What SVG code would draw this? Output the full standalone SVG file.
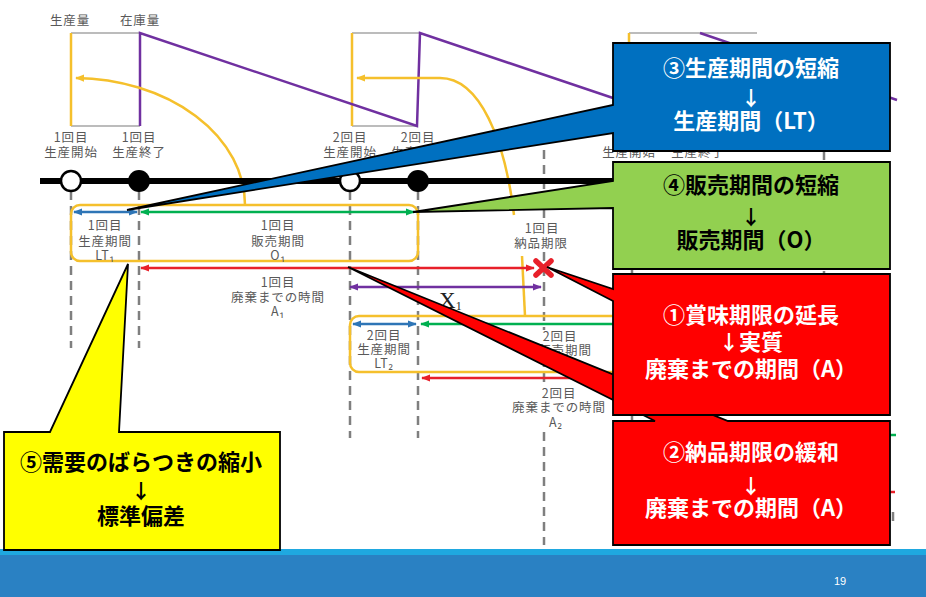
<svg xmlns="http://www.w3.org/2000/svg" width="926" height="597" viewBox="0 0 926 597">
<defs>
<style>
.lbl{font-family:"Noto Sans CJK JP","Noto Sans",sans-serif;font-size:12.5px;fill:#595959;text-anchor:middle;letter-spacing:0.9px}
.co{font-family:"Noto Sans CJK JP","Noto Sans",sans-serif;font-size:22px;font-weight:bold;text-anchor:middle}
.arw{font-size:20px}
.w{fill:#ffffff}
.k{fill:#000000}
.dash{stroke:#7f7f7f;stroke-width:2.5;stroke-dasharray:9 6;fill:none}
.gray{stroke:#a6a6a6;stroke-width:1.5;fill:none}
.yel{stroke:#f5c02c;stroke-width:2.5;fill:none}
.pur{stroke:#7030a0;stroke-width:2.5;fill:none}
.box{stroke:#000;stroke-width:1.8;stroke-linejoin:miter}
.ab{stroke:#2e75b6;stroke-width:2.5;fill:none}
.ag{stroke:#00b050;stroke-width:2.5;fill:none}
.ar{stroke:#e8202a;stroke-width:2.5;fill:none}
</style>
<marker id="mB" viewBox="0 0 10 10" refX="9" refY="5" markerWidth="9" markerHeight="9" markerUnits="userSpaceOnUse" orient="auto-start-reverse"><path d="M0,1 L10,5 L0,9 z" fill="#2e75b6"/></marker>
<marker id="mG" viewBox="0 0 10 10" refX="9" refY="5" markerWidth="9" markerHeight="9" markerUnits="userSpaceOnUse" orient="auto-start-reverse"><path d="M0,1 L10,5 L0,9 z" fill="#00b050"/></marker>
<marker id="mR" viewBox="0 0 10 10" refX="9" refY="5" markerWidth="9" markerHeight="9" markerUnits="userSpaceOnUse" orient="auto-start-reverse"><path d="M0,1 L10,5 L0,9 z" fill="#e8202a"/></marker>
<marker id="mP" viewBox="0 0 10 10" refX="9" refY="5" markerWidth="9" markerHeight="9" markerUnits="userSpaceOnUse" orient="auto-start-reverse"><path d="M0,1 L10,5 L0,9 z" fill="#7030a0"/></marker>
<marker id="mY" viewBox="0 0 10 10" refX="9" refY="5" markerWidth="9" markerHeight="9" markerUnits="userSpaceOnUse" orient="auto"><path d="M0,1 L10,5 L0,9 z" fill="#f5c02c"/></marker>
</defs>
<rect x="0" y="0" width="926" height="597" fill="#ffffff"/>

<g id="stock-chart">
<text class="lbl" x="70" y="24.5">生産量</text>
<text class="lbl" x="140" y="24.5">在庫量</text>
<path class="gray" d="M71,33 H140 M71,126 H140 M352,33 H420 M352,126 H417 M629,33 H757"/>
<path class="yel" d="M71,33 V126 M352,33 V126 M629,33 V60"/>
<path class="pur" d="M140,126 V33 L417,126 L420,33 L613,98 M700,33 L897,100"/>
<path class="yel" d="M245,205 A172,127 0 0 0 76,78" marker-end="url(#mY)"/>
<path class="yel" d="M514,215 C505,140 480,78 440,78 L357,78" marker-end="url(#mY)"/>
<path class="yel" d="M522,256 L525,316"/>
</g>

<g id="guides">
<path class="dash" d="M71,191 V348 M139,191 V348 M350,191 V438 M418,191 V438 M544,150 V218 M544,252 V330 M544,358 V386 M544,432 V545 M632,191 V528 M824,151 V545"/>
<path class="dash" d="M893,512 V526"/>
</g>

<g id="timeline">
<line x1="40" y1="181" x2="720" y2="181" stroke="#000" stroke-width="6"/>
<circle cx="71" cy="181" r="10" fill="#fff" stroke="#000" stroke-width="2.5"/>
<circle cx="139" cy="181" r="11" fill="#000"/>
<circle cx="350" cy="181" r="10" fill="#fff" stroke="#000" stroke-width="2.5"/>
<circle cx="418" cy="181" r="11" fill="#000"/>
</g>

<g id="event-labels">
<text class="lbl" x="71" y="141.5">1回目</text><text class="lbl" x="71" y="157">生産開始</text>
<text class="lbl" x="139" y="141.5">1回目</text><text class="lbl" x="139" y="157">生産終了</text>
<text class="lbl" x="350" y="141.5">2回目</text><text class="lbl" x="350" y="157">生産開始</text>
<text class="lbl" x="418" y="141.5">2回目</text><text class="lbl" x="418" y="157">生産終了</text>
<text class="lbl" x="629" y="157">生産開始</text><text class="lbl" x="698" y="157">生産終了</text>
<text class="lbl" x="542" y="232.5">1回目</text><text class="lbl" x="541" y="247.5">納品期限</text>
</g>

<g id="period-boxes">
<rect class="yel" x="71" y="205" width="347" height="56" rx="9"/>
<rect class="yel" x="350" y="316" width="380" height="56" rx="9"/>
</g>

<g id="connectors">
<path class="ab" d="M74,212 H137" marker-start="url(#mB)" marker-end="url(#mB)"/>
<path class="ag" d="M141,212 H414" marker-start="url(#mG)" marker-end="url(#mG)"/>
<path class="ar" d="M141,268 H534" marker-start="url(#mR)" marker-end="url(#mR)"/>
<path class="pur" d="M350,287 H541" marker-start="url(#mP)" marker-end="url(#mP)"/>
<path class="ab" d="M353,324 H416" marker-start="url(#mB)" marker-end="url(#mB)"/>
<path class="ag" d="M421,324 H700" marker-start="url(#mG)"/>
<path class="ar" d="M422,378 H700" marker-start="url(#mR)"/>
<path class="ag" d="M880,435 H896"/>
<path class="ar" d="M880,492 H895"/>
<path d="M536,261 L551,275 M551,261 L536,275" stroke="#e8202a" stroke-width="5.5" stroke-linecap="round"/>
</g>

<g id="period-labels">
<text class="lbl" x="105" y="229.5">1回目</text><text class="lbl" x="105" y="245.5">生産期間</text><text class="lbl" x="105" y="259.5">LT₁</text>
<text class="lbl" x="278" y="229.5">1回目</text><text class="lbl" x="278" y="245.5">販売期間</text><text class="lbl" x="278" y="259.5">O₁</text>
<text class="lbl" x="278" y="286.5">1回目</text><text class="lbl" x="278" y="301.5">廃棄までの時間</text><text class="lbl" x="278" y="316">A₁</text>
<text class="lbl" x="384" y="339.5">2回目</text><text class="lbl" x="384" y="354">生産期間</text><text class="lbl" x="384" y="368">LT₂</text>
<text class="lbl" x="560" y="341">2回目</text><text class="lbl" x="565" y="355">販売期間</text>
<text class="lbl" x="559" y="397.5">2回目</text><text class="lbl" x="559" y="412">廃棄までの時間</text><text class="lbl" x="556" y="427">A₂</text>
<text x="439" y="308" font-family="Liberation Serif,serif" font-size="23" fill="#222">X<tspan font-size="12" dy="2">1</tspan></text>
</g>

<g id="footer">
<rect x="0" y="549" width="926" height="48" fill="#1fa8e0"/>
<rect x="0" y="555" width="926" height="42" fill="#2a81c3"/>
<text x="840" y="585" font-family="Liberation Sans,sans-serif" font-size="11" fill="#fff" text-anchor="middle">19</text>
</g>

<g id="callout-3">
<path class="box" fill="#0070c0" d="M613,43 H890 V151 H613 V133 L127,210 L613,105 Z"/>
<text class="co w" x="751" y="75.5">③生産期間の短縮</text>
<text class="co w arw" x="751" y="106">↓</text>
<text class="co w" x="751" y="129">生産期間（LT）</text>
</g>

<g id="callout-4">
<path class="box" fill="#92d050" d="M613,162 H890 V269 H613 V208 L413,212 L613,181 Z"/>
<text class="co k" x="751" y="193">④販売期間の短縮</text>
<text class="co k arw" x="751" y="225">↓</text>
<text class="co k" x="751" y="248">販売期間（O）</text>
</g>

<g id="callout-2">
<path class="box" fill="#ff0000" d="M613,421 H655 L348,267 L728,421 H890 V545 H613 Z"/>
<text class="co w" x="751" y="460">②納品期限の緩和</text>
<text class="co w arw" x="751" y="494">↓</text>
<text class="co w" x="751" y="516">廃棄までの期間（A）</text>
</g>

<g id="callout-1">
<path class="box" fill="#ff0000" d="M613,274 H890 V415 H613 V301 L547,267 L613,289 Z"/>
<text class="co w" x="751" y="323">①賞味期限の延長</text>
<text class="co w" x="751" y="350"><tspan font-size="20">↓</tspan>実質</text>
<text class="co w" x="751" y="377">廃棄までの期間（A）</text>
</g>

<g id="callout-5">
<path class="box" fill="#ffff00" d="M4,432 H50 L128,264 L119,432 H280 V550 H4 Z"/>
<text class="co k" x="141" y="470">⑤需要のばらつきの縮小</text>
<text class="co k arw" x="141" y="499">↓</text>
<text class="co k" x="141" y="524">標準偏差</text>
</g>
</svg>
